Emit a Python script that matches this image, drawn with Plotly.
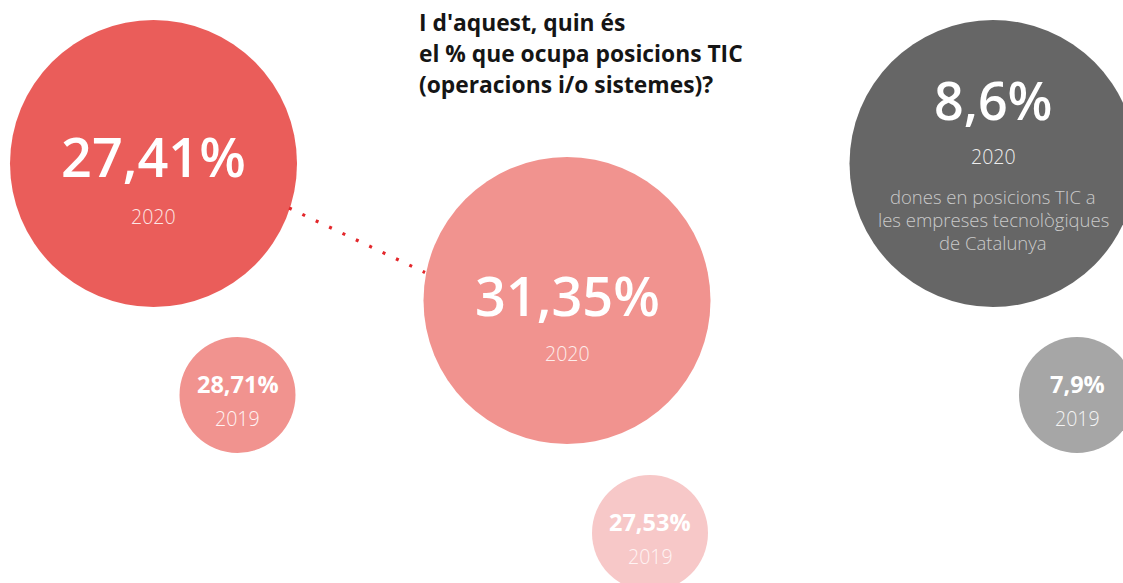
import plotly.graph_objects as go

# ---- data ----
groups = ["empreses", "tic", "dones_tic"]
values_2020 = [27.41, 31.35, 8.6]
values_2019 = [28.71, 27.53, 7.9]
year_new = "2020"
year_old = "2019"
title_lines = ["I d'aquest, quin és", "el % que ocupa posicions TIC", "(operacions i/o sistemes)?"]
description_lines = ["dones en posicions TIC a", "les empreses tecnològiques", "de Catalunya"]

def fmt(v):
    s = f"{v:.2f}" if round(v, 1) != v else f"{v:.1f}"
    return s.replace(".", ",") + "%"

# ---- layout (pixel coordinates) ----
W, H = 1123, 583
big_pos = [(153.5, 163.5), (567, 300.5), (993, 163.5)]
small_pos = [(237.5, 395), (650, 533), (1077, 395)]
big_r, small_r = 143.5, 58
big_colors = ["#EA5D5A", "#F1938F", "#666666"]
small_colors = ["#F1938F", "#F7C8C8", "#A6A6A6"]
year_colors_big = ["#FCE6E5", "#FDEDEC", "#EDEDED"]
big_value_sizes = [54, 54, 52]

FONT = "Open Sans"

fig = go.Figure()

fig.add_trace(go.Scatter(
    x=[p[0] for p in big_pos], y=[p[1] for p in big_pos], mode="markers",
    marker=dict(size=2 * big_r, color=big_colors, line=dict(width=0), opacity=1),
    hoverinfo="skip", showlegend=False, cliponaxis=True))
fig.add_trace(go.Scatter(
    x=[p[0] for p in small_pos], y=[p[1] for p in small_pos], mode="markers",
    marker=dict(size=2 * small_r, color=small_colors, line=dict(width=0), opacity=1),
    hoverinfo="skip", showlegend=False, cliponaxis=True))

# dotted connector
fig.add_trace(go.Scatter(
    x=[289, 425], y=[208, 272.5], mode="lines",
    line=dict(color="#E3262A", width=3.2, dash="3px,11.8px"),
    hoverinfo="skip", showlegend=False))

annotations = []
def txt(x, y, t, size, color, weight="normal", xanchor="center"):
    annotations.append(dict(x=x, y=y, xref="x", yref="y", text=t, showarrow=False,
                            xanchor=xanchor, yanchor="middle",
                            font=dict(family=FONT, size=size, color=color, weight=weight)))

big_val_offsets = [-8, -6, -64]
big_year_offsets = [53, 53, -7]
for i, (x, y) in enumerate(big_pos):
    txt(x, y + big_val_offsets[i], fmt(values_2020[i]), big_value_sizes[i], "white", 600)
    txt(x, y + big_year_offsets[i], year_new, 19.5, year_colors_big[i], 300)

for j, line in enumerate(description_lines):
    txt(big_pos[2][0], 196 + 23 * j, line, 18.5, "#CACACA", 300)

for i, (x, y) in enumerate(small_pos):
    txt(x, y - 11, fmt(values_2019[i]), 23.5, "white", 700)
    txt(x, y + 23, year_old, 19.5, "#FFF4F4" if i < 2 else "#F4F4F4", 300)

for j, line in enumerate(title_lines):
    txt(417, 22 + 31 * j, line, 22.8, "#151515", "bold", xanchor="left")

fig.update_layout(
    width=W, height=H, margin=dict(l=0, r=0, t=0, b=0),
    paper_bgcolor="white", plot_bgcolor="white",
    xaxis=dict(range=[0, W], visible=False, fixedrange=True),
    yaxis=dict(range=[H, 0], visible=False, fixedrange=True),
    annotations=annotations, showlegend=False)

fig.write_html("out.html", config={"displayModeBar": False},
               post_script="document.body.style.margin='0';document.body.style.overflow='hidden';")
